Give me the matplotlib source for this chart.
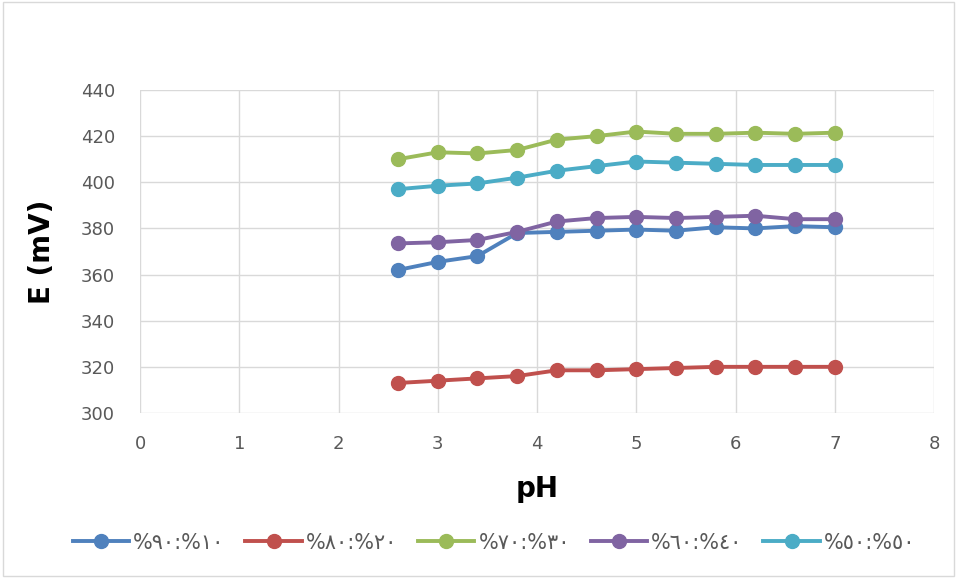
import matplotlib
matplotlib.use('Agg')
import matplotlib.pyplot as plt

ph = [2.6, 3.0, 3.4, 3.8, 4.2, 4.6, 5.0, 5.4, 5.8, 6.2, 6.6, 7.0]

e_10_90 = [362, 365.5, 368, 378, 378.5, 379, 379.5, 379, 380.5, 380, 381, 380.5]
e_20_80 = [313, 314, 315, 316, 318.5, 318.5, 319, 319.5, 320, 320, 320, 320]
e_30_70 = [410, 413, 412.5, 414, 418.5, 420, 422, 421, 421, 421.5, 421, 421.5]
e_40_60 = [373.5, 374, 375, 378.5, 383, 384.5, 385, 384.5, 385, 385.5, 384, 384]
e_50_50 = [397, 398.5, 399.5, 402, 405, 407, 409, 408.5, 408, 407.5, 407.5, 407.5]

labels = ["%٩٠:%١٠", "%٨٠:%٢٠", "%٧٠:%٣٠", "%٦٠:%٤٠", "%٥٠:%٥٠"]
colors = ["#4F81BD", "#C0504D", "#9BBB59", "#8064A2", "#4BACC6"]
series = [e_10_90, e_20_80, e_30_70, e_40_60, e_50_50]

plt.rcParams['font.family'] = ['DejaVu Sans']

fig = plt.figure(figsize=(9.57, 5.78), dpi=100)
ax = fig.add_axes([0.1463, 0.2855, 0.8297, 0.5588])

for y, lab, c in zip(series, labels, colors):
    ax.plot(ph, y, color=c, lw=2.8, marker='o', markersize=10, label=lab)

ax.set_xlim(0, 8)
ax.set_ylim(300, 440)
ax.set_xticks(range(0, 9))
ax.set_yticks(range(300, 441, 20))
ax.grid(True, color='#d9d9d9', lw=1)
ax.set_axisbelow(True)
for s in ax.spines.values():
    s.set_visible(False)
ax.tick_params(axis='x', length=0, labelsize=13, labelcolor='#595959', pad=16)
ax.tick_params(axis='y', length=0, labelsize=13, labelcolor='#595959', pad=18)

ax.set_xlabel("pH", fontsize=20, fontweight='bold', labelpad=16)
ax.set_ylabel("E (mV)", fontsize=20, fontweight='bold', labelpad=18)

ax.legend(loc='upper center', bbox_to_anchor=(0.446, -0.345), ncol=5, frameon=False,
          fontsize=15, labelcolor='#595959', handlelength=2.7, columnspacing=1.0,
          handletextpad=0.2, borderaxespad=0)

fig.patches.append(plt.Rectangle((0.003, 0.003), 0.994, 0.994, transform=fig.transFigure,
                                 fill=False, edgecolor='#d9d9d9', lw=1))

fig.savefig('out.png', dpi=100)
